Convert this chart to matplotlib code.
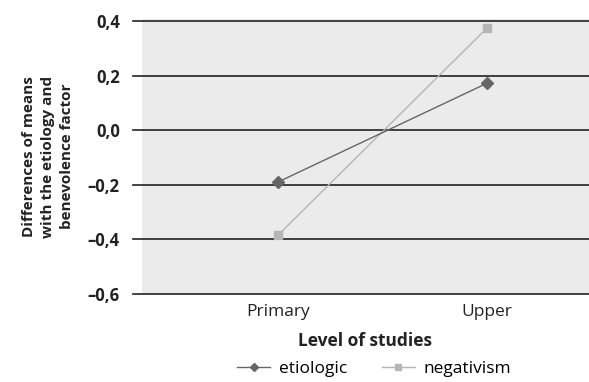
import matplotlib
matplotlib.use("Agg")
import matplotlib.pyplot as plt
import numpy as np

categories = ["Primary", "Upper"]
etiologic = [-0.19, 0.172]
negativism = [-0.385, 0.374]
yticks = [-0.6, -0.4, -0.2, 0.0, 0.2, 0.4]
ytick_labels = ["\u20130,6", "\u20130,4", "\u20130,2", "0,0", "0,2", "0,4"]

plt.rcParams['font.family'] = ['Open Sans', 'DejaVu Sans']

fig = plt.figure(figsize=(5.89, 3.82), dpi=100)
ax = fig.add_axes([142/589, 1 - 294/382, 447/589, (294 - 19)/382])
ax.set_facecolor('#ebebeb')

x = np.arange(len(categories))
ax.plot(x, negativism, color='#b5b5b5', lw=1, marker='s', ms=6,
        label='negativism', zorder=3)
ax.plot(x, etiologic, color='#666666', lw=1, marker='D', ms=6,
        label='etiologic', zorder=4)

ax.set_xlim(-0.65, 1.488)
ax.set_ylim(-0.6, 0.4 + 0.2 * 2 / 54.6)
ax.set_yticks(yticks)
ax.set_yticklabels(ytick_labels, fontsize=12, fontweight='bold', color='#222222')
ax.set_xticks(x)
ax.set_xticklabels(categories, fontsize=12.5, color='#222222')

for v in yticks:
    ax.axhline(v, color='#222222', lw=1.2, zorder=2, clip_on=False,
               xmin=-9/447, xmax=1)

for s in ax.spines.values():
    s.set_visible(False)
ax.tick_params(axis='y', length=0, pad=16)
ax.tick_params(axis='x', length=0, pad=7)

ax.set_ylabel("Differences of means\nwith the etiology and\nbenevolence factor",
              fontsize=11, fontweight='bold', color='#222222', labelpad=10,
              linespacing=1.45)
ax.set_xlabel("Level of studies", fontsize=12.5, fontweight='bold',
              color='#222222', labelpad=9)

h, l = ax.get_legend_handles_labels()
fig.legend(h[::-1], l[::-1], loc='center', bbox_to_anchor=(0.635, 1 - 369/382),
           ncol=2, frameon=False, fontsize=12.5, handlelength=1.9,
           columnspacing=2.0, handletextpad=0.5, markerscale=0.75)

fig.savefig("out.png", dpi=100)
